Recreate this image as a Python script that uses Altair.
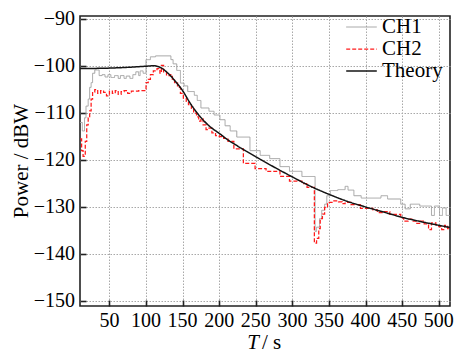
import altair as alt
import pandas as pd

# ---- data ----
series_names = ["CH1", "CH2", "Theory"]

ch1_t = [10, 13, 16, 18, 21, 23, 25, 27, 30, 36, 40, 44, 48, 52, 57, 62, 65, 70, 73, 78, 82, 86, 90, 92, 96,
         100, 106, 113, 134, 137, 142, 147, 152, 157, 166, 170, 175, 186, 193, 201, 208, 215, 224, 242, 256,
         269, 283, 296, 313, 331, 333, 337, 340, 344, 347, 352, 362, 372, 376, 384, 394, 421, 430, 448, 454,
         461, 474, 490, 494, 501, 505, 510, 516]
ch1_v = [-112.0, -113.8, -111.0, -108.5, -107.0, -104.5, -103.5, -101.5, -100.8, -102.0, -101.8, -102.3, -101.8,
         -102.4, -102.0, -102.6, -102.0, -102.6, -102.1, -102.6, -101.8, -101.2, -102.0, -101.0, -101.5,
         -98.6, -98.0, -97.8, -98.6, -99.5, -100.9, -103.6, -104.2, -105.4, -106.2, -107.3, -108.9, -109.6,
         -110.4, -111.4, -112.7, -113.8, -115.1, -118.0, -119.0, -119.7, -121.4, -122.4, -123.5, -135.2,
         -134.3, -132.5, -130.7, -129.4, -127.6, -126.5, -126.3, -125.6, -126.4, -127.6, -128.1, -127.6,
         -128.3, -129.4, -130.4, -129.4, -129.8, -131.8, -129.8, -131.8, -130.2, -131.8, -131.8]

ch2_t = [10, 12, 14, 17, 19, 21, 23, 25, 27, 30, 34, 38, 42, 46, 50, 54, 58, 62, 66, 70, 75, 80, 90, 100, 103,
         106, 110, 115, 119, 121, 124, 128, 132, 136, 139, 143, 147, 151, 155, 158, 162, 165, 169, 172, 175,
         178, 182, 186, 190, 195, 200, 206, 212, 220, 233, 249, 264, 283, 296, 313, 320, 330, 333, 336, 338,
         341, 344, 348, 355, 363, 368, 372, 380, 393, 410, 416, 425, 433, 448, 452, 458, 465, 470, 475, 480,
         486, 490, 496, 500, 504, 508, 512, 516]
ch2_v = [-115.5, -118.0, -119.2, -116.0, -112.5, -111.0, -109.5, -107.0, -105.5, -105.0, -105.8, -105.2, -105.6,
         -106.3, -105.3, -105.8, -105.2, -106.0, -105.4, -105.2, -105.8, -105.3, -105.2, -103.5, -102.8,
         -101.8, -101.0, -100.5, -101.5, -99.8, -101.2, -102.0, -101.8, -102.8, -103.5, -104.5, -105.8,
         -106.8, -107.5, -108.2, -109.0, -110.0, -110.8, -111.7, -111.2, -112.5, -113.5, -113.2, -114.2,
         -114.8, -115.0, -115.4, -116.0, -117.6, -120.7, -121.8, -122.4, -123.5, -124.5, -125.0, -125.8,
         -137.7, -136.7, -134.6, -132.5, -131.5, -130.1, -129.0, -128.7, -128.9, -129.3, -129.0, -129.5,
         -130.3, -130.6, -131.2, -131.0, -131.6, -132.3, -133.0, -132.6, -133.0, -133.5, -133.0, -133.6,
         -134.8, -133.4, -133.8, -134.2, -134.8, -133.9, -134.6, -134.6]

th_t = [10, 50, 80, 100, 110, 120, 130, 140, 150, 160, 170, 180, 190, 200, 210, 225, 250, 275, 300, 325, 350,
        375, 400, 425, 450, 475, 500, 516]
th_v = [-100.5, -100.4, -100.2, -100.0, -99.9, -100.3, -101.5, -103.2, -105.2, -107.8, -110.0, -111.8, -113.2,
        -114.3, -115.5, -117.0, -119.3, -121.5, -123.6, -125.6, -127.3, -128.8, -130.0, -131.1, -132.2,
        -133.1, -133.9, -134.4]

x_ticks = [50, 100, 150, 200, 250, 300, 350, 400, 450, 500]
x_tick_labels = ["50", "100", "150", "200", "250", "300", "350", "400", "450", "500"]
y_ticks = [-90, -100, -110, -120, -130, -140, -150]
y_tick_labels = ["\u221290", "\u2212100", "\u2212110", "\u2212120", "\u2212130", "\u2212140", "\u2212150"]

x_title_main = "T"
x_title_unit = "\u00a0/ s"
y_title = "Power / dBW"

colors = ["#a3a3a3", "#ff1a1a", "#141414"]
dashes = [[1, 0], [4, 2], [1, 0]]
widths = [1.0, 1.5, 2.0]

df_steps = pd.DataFrame({
    "t": ch1_t + ch2_t,
    "v": ch1_v + ch2_v,
    "s": ["CH1"] * len(ch1_t) + ["CH2"] * len(ch2_t),
})
df_th = pd.DataFrame({"t": th_t, "v": th_v, "s": ["Theory"] * len(th_t)})
df_xl = pd.DataFrame({"t": x_ticks, "lab": x_tick_labels})
df_yl = pd.DataFrame({"v": y_ticks, "lab": y_tick_labels})

FONT = "Liberation Serif"
W, H = 370, 290

xscale = alt.Scale(domain=[9.8, 515.3], nice=False, zero=False)
yscale = alt.Scale(domain=[-151.1, -89.3], nice=False, zero=False)

x = alt.X("t:Q", scale=xscale,
          axis=alt.Axis(values=x_ticks, title=None, labels=False, offset=-6, tickSize=6, domain=False))
y = alt.Y("v:Q", scale=yscale,
          axis=alt.Axis(values=y_ticks, title=None, labels=False, offset=-6, tickSize=6, domain=False))

leg = alt.Legend(orient="none", legendX=271, legendY=0.5, symbolType="M-1.8,0H1.8", symbolSize=289,
                 labelFontSize=21, labelFont=FONT, labelColor="black", rowPadding=0,
                 padding=0, labelOffset=10, symbolOffset=0, symbolFillColor="transparent")
color = alt.Color("s:N", title=None, scale=alt.Scale(domain=series_names, range=colors), legend=leg)
dash = alt.StrokeDash("s:N", title=None, scale=alt.Scale(domain=series_names, range=dashes), legend=leg)
sw = alt.StrokeWidth("s:N", title=None, scale=alt.Scale(domain=series_names, range=widths), legend=leg)

steps = alt.Chart(df_steps).mark_line(interpolate="step-after", clip=True).encode(
    x=x, y=y, color=color, strokeDash=dash, strokeWidth=sw, detail="s:N")
theory = alt.Chart(df_th).mark_line(interpolate="monotone", clip=True).encode(
    x=x, y=y, color=color, strokeDash=dash, strokeWidth=sw)

# tick labels drawn through the same scales
xlab = alt.Chart(df_xl).mark_text(font=FONT, fontSize=20, align="center", baseline="top",
                                   color="black").encode(
    x=alt.X("t:Q", scale=xscale), y=alt.value(H + 5), text="lab:N")
ylab = alt.Chart(df_yl).mark_text(font=FONT, fontSize=20, align="right", baseline="middle",
                                   color="black").encode(
    y=alt.Y("v:Q", scale=yscale), x=alt.value(-5), text="lab:N")

# axis titles
xt1 = alt.Chart(pd.DataFrame({"s": [x_title_main]})).mark_text(
    font=FONT, fontSize=21, fontStyle="italic", align="right", baseline="middle", color="black").encode(
    x=alt.value(W / 2 - 6), y=alt.value(H + 37), text="s:N")
xt2 = alt.Chart(pd.DataFrame({"s": [x_title_unit]})).mark_text(
    font=FONT, fontSize=21, align="left", baseline="middle", color="black").encode(
    x=alt.value(W / 2 - 3), y=alt.value(H + 37), text="s:N")
yt = alt.Chart(pd.DataFrame({"s": [y_title]})).mark_text(
    font=FONT, fontSize=21, angle=270, align="center", baseline="middle", color="black").encode(
    x=alt.value(-58), y=alt.value(H / 2), text="s:N")

chart = alt.layer(steps, theory, xlab, ylab, xt1, xt2, yt).properties(
    width=W, height=H,
    autosize=alt.AutoSizeParams(type="none"),
    padding={"left": 72, "top": 8, "right": 6, "bottom": 47},
).configure(
    font=FONT,
).configure_view(
    stroke="#222", strokeWidth=1.6
).configure_axis(
    tickColor="#222", tickWidth=1.6,
    grid=True, gridColor="#a8a8a8", gridDash=[1.5, 1.5], gridWidth=1,
)

chart.save("out.html", embed_options={"renderer": "svg", "actions": False})
